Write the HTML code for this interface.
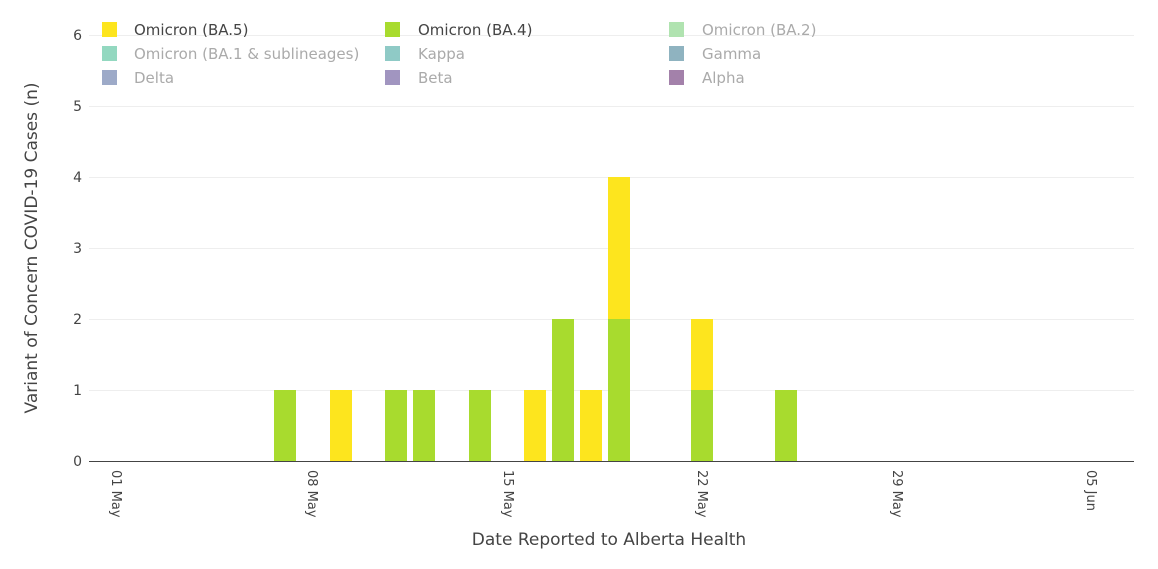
<!DOCTYPE html>
<html><head><style>body{margin:0;background:#fff}svg{display:block;font-family:"DejaVu Sans","Liberation Sans",sans-serif}</style></head><body>
<svg width="1158" height="569" viewBox="0 0 1158 569">
<g stroke="#eeeeee" stroke-width="1">
<line x1="89" x2="1134" y1="35.5" y2="35.5"/><line x1="89" x2="1134" y1="106.5" y2="106.5"/><line x1="89" x2="1134" y1="177.5" y2="177.5"/><line x1="89" x2="1134" y1="248.5" y2="248.5"/><line x1="89" x2="1134" y1="319.5" y2="319.5"/><line x1="89" x2="1134" y1="390.5" y2="390.5"/>
</g>
<g fill="#444" font-size="14" text-anchor="end">
<text x="82" y="466">0</text><text x="82" y="395">1</text><text x="82" y="324">2</text><text x="82" y="253">3</text><text x="82" y="182">4</text><text x="82" y="111">5</text><text x="82" y="40">6</text>
</g>
<g fill="#a8db2e">
<rect x="274" y="390" width="22" height="71"/><rect x="385" y="390" width="22" height="71"/><rect x="413" y="390" width="22" height="71"/><rect x="469" y="390" width="22" height="71"/><rect x="552" y="319" width="22" height="142"/><rect x="608" y="319" width="22" height="142"/><rect x="691" y="390" width="22" height="71"/><rect x="775" y="390" width="22" height="71"/>
</g>
<g fill="#fde51e">
<rect x="330" y="390" width="22" height="71"/><rect x="524" y="390" width="22" height="71"/><rect x="580" y="390" width="22" height="71"/><rect x="608" y="177" width="22" height="142"/><rect x="691" y="319" width="22" height="71"/>
</g>
<line x1="89" x2="1134" y1="461.5" y2="461.5" stroke="#444" stroke-width="1"/>
<g fill="#444" font-size="13">
<text transform="translate(112,470) rotate(90)">01 May</text>
<text transform="translate(308,470) rotate(90)">08 May</text>
<text transform="translate(504,470) rotate(90)">15 May</text>
<text transform="translate(698,470) rotate(90)">22 May</text>
<text transform="translate(893,470) rotate(90)">29 May</text>
<text transform="translate(1087,470) rotate(90)">05 Jun</text>
</g>
<text x="609" y="545" font-size="17" fill="#444" text-anchor="middle">Date Reported to Alberta Health</text>
<text transform="translate(37,248) rotate(-90)" font-size="17" fill="#444" text-anchor="middle">Variant of Concern COVID-19 Cases (n)</text>
<g font-size="15">
<rect x="102" y="22" width="15" height="15" fill="#fde51e"/><text x="134" y="35" fill="#444">Omicron (BA.5)</text>
<rect x="385" y="22" width="15" height="15" fill="#a8db2e"/><text x="418" y="35" fill="#444">Omicron (BA.4)</text>
<rect x="669" y="22" width="15" height="15" fill="#b0e3b0"/><text x="702" y="35" fill="#aaa">Omicron (BA.2)</text>
<rect x="102" y="46" width="15" height="15" fill="#93d8c0"/><text x="134" y="59" fill="#aaa">Omicron (BA.1 &amp; sublineages)</text>
<rect x="385" y="46" width="15" height="15" fill="#8fcac6"/><text x="418" y="59" fill="#aaa">Kappa</text>
<rect x="669" y="46" width="15" height="15" fill="#8fb3c0"/><text x="702" y="59" fill="#aaa">Gamma</text>
<rect x="102" y="70" width="15" height="15" fill="#9daac8"/><text x="134" y="83" fill="#aaa">Delta</text>
<rect x="385" y="70" width="15" height="15" fill="#a195c0"/><text x="418" y="83" fill="#aaa">Beta</text>
<rect x="669" y="70" width="15" height="15" fill="#a381aa"/><text x="702" y="83" fill="#aaa">Alpha</text>
</g>
</svg>
</body></html>
